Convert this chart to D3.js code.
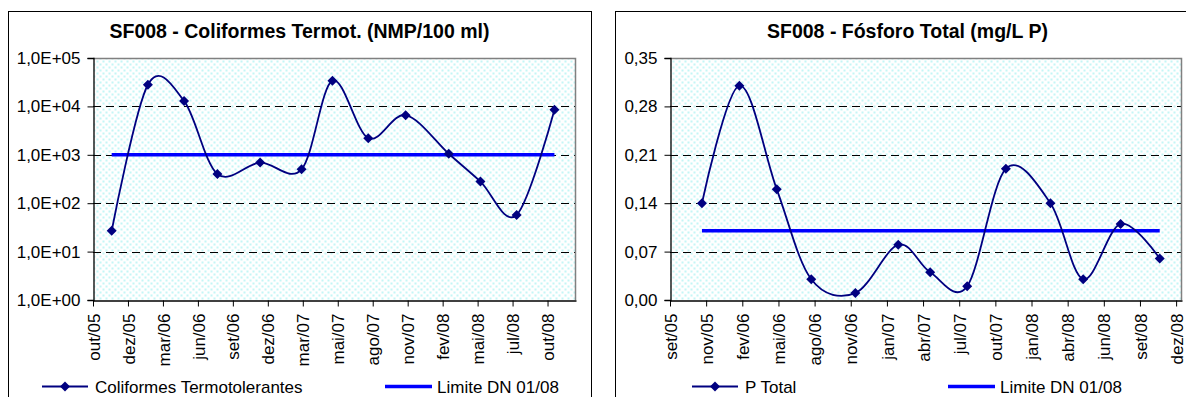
<!DOCTYPE html>
<html>
<head>
<meta charset="utf-8">
<script src="https://cdn.jsdelivr.net/npm/d3@7"></script>
<style>
  html, body { margin: 0; padding: 0; background: #fff; }
  svg { display: block; font-family: "Liberation Sans", Arial, sans-serif; }
</style>
</head>
<body>
<svg id="chart" width="1186" height="397"></svg>
<script>
// Sampling dates for station SF008
const sampleDates = ["2005-11-16","2006-02-13","2006-05-13","2006-08-03","2006-11-16","2007-02-26",
  "2007-05-13","2007-08-09","2007-11-09","2008-02-23","2008-05-11","2008-08-08","2008-11-09"];

// Thermotolerant coliforms (NMP/100 ml)
const coliformes = [27, 28000, 13000, 400, 690, 500, 34000, 2200, 6600, 1050, 280, 57, 8500];
const coliformesLimit = 1000;

// Total phosphorus (mg/L P)
const fosforo = [0.14, 0.31, 0.16, 0.03, 0.01, 0.08, 0.04, 0.02, 0.19, 0.14, 0.03, 0.11, 0.06];
const fosforoLimit = 0.1;

// Axis ranges and tick labels
const coliXStart = "2005-10-01", coliXEnd = "2009-01-01";
const coliXLabels = ["out/05","dez/05","mar/06","jun/06","set/06","dez/06","mar/07","mai/07",
  "ago/07","nov/07","fev/08","mai/08","jul/08","out/08"];
const coliYTicks = [1, 10, 100, 1000, 10000, 100000];
const coliYLabels = ["1,0E+00","1,0E+01","1,0E+02","1,0E+03","1,0E+04","1,0E+05"];

const fosXStart = "2005-09-01", fosXEnd = "2009-01-01";
const fosXLabels = ["set/05","nov/05","fev/06","mai/06","ago/06","nov/06","jan/07","abr/07",
  "jul/07","out/07","jan/08","abr/08","jun/08","set/08","dez/08"];
const fosYTicks = [0, 0.07, 0.14, 0.21, 0.28, 0.35];
const fosYLabels = ["0,00","0,07","0,14","0,21","0,28","0,35"];

const tickStepDays = 86;

const parse = d3.timeParse("%Y-%m-%d");
const svg = d3.select("#chart");

// dotted light-cyan fill for the plot areas
const defs = svg.append("defs");
const pat = defs.append("pattern").attr("id", "dots")
  .attr("patternUnits", "userSpaceOnUse").attr("width", 6).attr("height", 6);
pat.append("rect").attr("width", 6).attr("height", 6).attr("fill", "#ffffff");
pat.append("rect").attr("x", 0.5).attr("y", 0.5).attr("width", 2).attr("height", 2).attr("fill", "#c4f6f6");
pat.append("rect").attr("x", 3.5).attr("y", 3.5).attr("width", 2).attr("height", 2).attr("fill", "#c4f6f6");

function drawPanel(cfg) {
  const g = svg.append("g");
  // outer frame
  g.append("rect").attr("x", cfg.box[0] + 0.5).attr("y", cfg.box[1] + 0.5)
    .attr("width", cfg.box[2] - cfg.box[0]).attr("height", 420)
    .attr("fill", "#fff").attr("stroke", "#000").attr("stroke-width", 1);

  g.append("text").attr("x", (cfg.box[0] + cfg.box[2]) / 2).attr("y", 37.5)
    .attr("text-anchor", "middle").attr("font-weight", "bold").attr("font-size", 19.5)
    .text(cfg.title);

  const [L, T, R, B] = cfg.plot;
  const x = d3.scaleTime().domain([parse(cfg.xStart), parse(cfg.xEnd)]).range([L, R]);
  const y = cfg.yScale.range([B, T]);

  g.append("rect").attr("x", L).attr("y", T).attr("width", R - L).attr("height", B - T)
    .attr("fill", "url(#dots)");

  // dashed gridlines
  g.append("g").selectAll("line").data(cfg.yTicks.slice(1, -1)).join("line")
    .attr("x1", L).attr("x2", R)
    .attr("y1", d => Math.round(y(d)) + 0.5).attr("y2", d => Math.round(y(d)) + 0.5)
    .attr("stroke", "#000").attr("stroke-width", 1).attr("stroke-dasharray", "8,5");

  // plot border (top/right)
  g.append("path").attr("d", `M${L},${T + 0.5}H${R - 0.5}V${B}`)
    .attr("fill", "none").attr("stroke", "#808080").attr("stroke-width", 1.5);

  // y axis
  const yAxis = d3.axisLeft(y).tickValues(cfg.yTicks)
    .tickFormat((d, i) => cfg.yLabels[i]).tickSize(6).tickPadding(7);
  const ya = g.append("g").attr("transform", `translate(${L + 0.5},0)`).call(yAxis);
  ya.select(".domain").attr("stroke", "#000").attr("stroke-width", 1.3);
  ya.selectAll(".tick line").attr("stroke", "#000");
  ya.selectAll(".tick text").attr("font-size", 17).attr("fill", "#000")
    .attr("font-family", "\"Liberation Sans\", Arial, sans-serif");

  // x axis: ticks every fixed number of days from the axis start
  const xTicks = cfg.xLabels.map((_, i) => d3.timeDay.offset(parse(cfg.xStart), i * tickStepDays));
  const xAxis = d3.axisBottom(x).tickValues(xTicks)
    .tickFormat((d, i) => cfg.xLabels[i]).tickSize(6).tickSizeOuter(0);
  const xa = g.append("g").attr("transform", `translate(0,${B + 0.5})`).call(xAxis);
  xa.select(".domain").attr("stroke", "#000").attr("stroke-width", 1.3);
  xa.selectAll(".tick line").attr("stroke", "#000");
  xa.selectAll(".tick text").attr("font-size", 17).attr("fill", "#000")
    .attr("font-family", "\"Liberation Sans\", Arial, sans-serif")
    .attr("transform", "rotate(-90)").attr("text-anchor", "end")
    .attr("x", -13).attr("y", 0).attr("dy", "0.36em");

  const dates = sampleDates.map(parse);
  const pts = cfg.values.map((v, i) => [x(dates[i]), y(v)]);

  // limit line spanning the sampled period
  g.append("line")
    .attr("x1", x(dates[0])).attr("x2", x(dates[dates.length - 1]))
    .attr("y1", y(cfg.limit)).attr("y2", y(cfg.limit))
    .attr("stroke", "#0000ff").attr("stroke-width", 3.5);

  // smoothed series
  g.append("path").datum(pts)
    .attr("d", d3.line().curve(d3.curveCardinal.tension(0)))
    .attr("fill", "none").attr("stroke", "#000080").attr("stroke-width", 1.8);

  const diamond = d3.symbol().type(d3.symbolSquare).size(50);
  g.append("g").selectAll("path").data(pts).join("path")
    .attr("d", diamond)
    .attr("transform", d => `translate(${d[0]},${d[1]}) rotate(45)`)
    .attr("fill", "#000080");

  // legend
  const ly = 386.5;
  const lg = g.append("g");
  lg.append("line").attr("x1", cfg.legend[0]).attr("x2", cfg.legend[0] + 46)
    .attr("y1", ly).attr("y2", ly).attr("stroke", "#000080").attr("stroke-width", 1.8);
  lg.append("path").attr("d", diamond)
    .attr("transform", `translate(${cfg.legend[0] + 23},${ly}) rotate(45)`).attr("fill", "#000080");
  lg.append("text").attr("x", cfg.legend[0] + 53).attr("y", ly).attr("dy", "0.36em")
    .attr("font-size", 17).text(cfg.seriesName);
  lg.append("line").attr("x1", cfg.legend[1]).attr("x2", cfg.legend[1] + 47)
    .attr("y1", ly).attr("y2", ly).attr("stroke", "#0000ff").attr("stroke-width", 3.5);
  lg.append("text").attr("x", cfg.legend[1] + 52).attr("y", ly).attr("dy", "0.36em")
    .attr("font-size", 17).text("Limite DN 01/08");
}

drawPanel({
  box: [8, 11, 591],
  plot: [93, 58, 576, 300],
  title: "SF008 - Coliformes Termot. (NMP/100 ml)",
  xStart: coliXStart, xEnd: coliXEnd, xLabels: coliXLabels,
  yScale: d3.scaleLog().domain([1, 100000]),
  yTicks: coliYTicks, yLabels: coliYLabels,
  values: coliformes, limit: coliformesLimit,
  seriesName: "Coliformes Termotolerantes",
  legend: [42, 385]
});

drawPanel({
  box: [615, 11, 1200],
  plot: [670, 58, 1182, 300],
  title: "SF008 - Fósforo Total (mg/L P)",
  xStart: fosXStart, xEnd: fosXEnd, xLabels: fosXLabels,
  yScale: d3.scaleLinear().domain([0, 0.35]),
  yTicks: fosYTicks, yLabels: fosYLabels,
  values: fosforo, limit: fosforoLimit,
  seriesName: "P Total",
  legend: [692, 948]
});
</script>
</body>
</html>
